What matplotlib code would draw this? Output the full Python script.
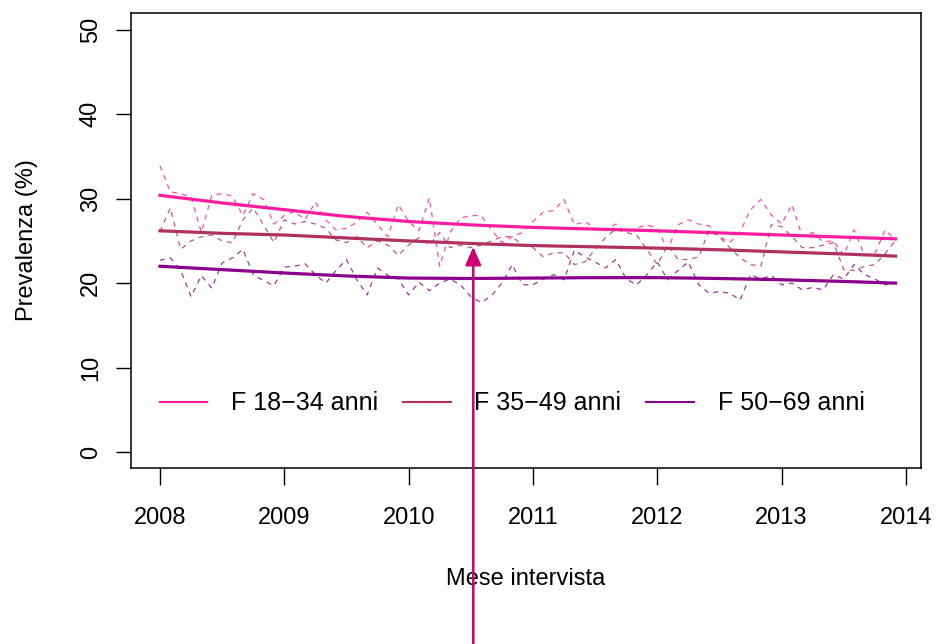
import numpy as np
import matplotlib.pyplot as plt

plt.rcParams['font.family'] = ['Liberation Sans', 'DejaVu Sans']

################################################################################
# monthly prevalence (Jan 2008 - Dec 2013)

months = 2008 + np.arange(72) / 12.

f_18_34 = [33.9, 30.8, 30.6, 30.2, 26.0, 30.4, 30.6, 30.3, 28.0, 30.6, 29.9, 27.0,
           28.0, 28.5, 27.5, 29.6, 27.5, 26.3, 26.5, 27.2, 28.4, 26.9, 25.5, 29.3,
           27.3, 26.2, 30.1, 22.0, 26.0, 27.7, 28.0, 28.0, 26.3, 24.8, 25.5, 26.0,
           27.3, 28.4, 28.6, 29.9, 26.9, 27.3, 26.5, 26.2, 27.0, 26.1, 26.5, 26.9,
           26.5, 24.0, 26.9, 27.5, 27.0, 26.8, 25.5, 24.8, 26.1, 28.7, 29.9, 28.1,
           27.0, 29.3, 25.5, 26.0, 24.9, 25.0, 23.3, 26.3, 23.3, 23.5, 26.3, 25.1]

f_35_49 = [26.1, 28.9, 24.0, 25.0, 25.5, 25.7, 25.0, 24.8, 27.5, 28.9, 26.9, 24.8,
           27.5, 27.0, 27.3, 27.0, 26.5, 25.1, 24.8, 25.5, 24.2, 25.0, 24.5, 23.3,
           24.5, 25.4, 24.5, 26.0, 24.2, 24.5, 24.2, 24.5, 25.0, 25.5, 25.5, 24.5,
           24.2, 23.1, 23.6, 23.6, 22.2, 22.5, 24.0, 25.4, 26.4, 26.0, 25.7, 24.0,
           22.2, 24.5, 22.8, 22.8, 23.1, 26.3, 25.5, 24.2, 23.0, 22.2, 22.0, 26.9,
           26.7, 25.5, 24.2, 24.2, 24.5, 24.8, 21.6, 21.5, 22.0, 22.2, 23.5, 25.1]

f_50_69 = [22.7, 23.0, 21.5, 18.4, 20.9, 19.4, 22.4, 23.0, 24.0, 21.0, 20.3, 19.7,
           21.9, 22.0, 22.3, 21.0, 20.0, 21.5, 22.8, 20.4, 18.6, 21.8, 20.9, 20.5,
           18.6, 20.1, 19.1, 20.0, 20.5, 19.8, 18.4, 17.7, 18.5, 20.0, 22.2, 19.8,
           19.8, 20.5, 21.0, 20.4, 23.9, 23.1, 22.5, 21.8, 22.8, 20.5, 19.8, 21.0,
           22.5, 20.4, 21.5, 22.5, 19.8, 18.8, 19.0, 18.8, 18.0, 21.0, 20.5, 20.9,
           19.8, 20.0, 19.2, 19.5, 19.2, 21.0, 20.5, 22.2, 21.0, 20.5, 19.8, 20.0]

# smoothed trends, read every half year
trend_x = [2008.0, 2008.5, 2009.0, 2009.5, 2010.0, 2010.5, 2011.0,
           2011.5, 2012.0, 2012.5, 2013.0, 2013.5, 2013.917]
trend_18_34 = [30.4, 29.5, 28.7, 27.9, 27.3, 26.9, 26.6, 26.4, 26.2, 25.95, 25.7, 25.45, 25.25]
trend_35_49 = [26.2, 25.9, 25.7, 25.35, 25.0, 24.7, 24.45, 24.3, 24.15, 23.95, 23.7, 23.45, 23.2]
trend_50_69 = [22.0, 21.6, 21.2, 20.85, 20.6, 20.55, 20.6, 20.65, 20.65, 20.55, 20.4, 20.2, 20.0]

labels = ['F 18\u221234 anni', 'F 35\u221249 anni', 'F 50\u221269 anni']
colors = ['#FF1C9E', '#B03060', '#8B008B']

arrow_x = 2010.52
arrow_y = 24.3

################################################################################

fig = plt.figure(figsize=(9.37, 6.44), dpi=100)
ax = fig.add_axes([131 / 937, 1 - 468 / 644, 790 / 937, 455 / 644])

for raw, trend, col, lab in zip([f_18_34, f_35_49, f_50_69],
                                [trend_18_34, trend_35_49, trend_50_69],
                                colors, labels):
    ax.plot(months, raw, color=col, lw=0.9, ls=(0, (4, 4)), alpha=0.8)
    ax.plot(trend_x, trend, color=col, lw=2.3, label=lab)

ax.set_xlim(2007.767, 2014.121)
ax.set_ylim(-1.9, 52.0)
ax.set_xticks(range(2008, 2015))
ax.set_yticks(range(0, 51, 10))
ax.tick_params(axis='x', length=12, width=1, labelsize=17, pad=16)
ax.tick_params(axis='y', length=11, width=1, labelsize=17, pad=10, labelrotation=90)
for lbl in ax.get_yticklabels():
    lbl.set_verticalalignment('center')
for sp in ax.spines.values():
    sp.set_linewidth(1.1)

ax.set_xlabel('Mese intervista', fontsize=17, labelpad=28)
ax.set_ylabel('Prevalenza (%)', fontsize=17, labelpad=30)

leg = ax.legend(loc='upper left', bbox_to_anchor=(0.008, 0.218), ncol=3, frameon=False,
                fontsize=18, handlelength=1.9, handletextpad=0.95, columnspacing=1.0,
                borderaxespad=0.5)
for ln in leg.get_lines():
    ln.set_linewidth(1.5)

ax.annotate('', xy=(arrow_x, arrow_y), xytext=(arrow_x, 0),
            xycoords='data', textcoords=('data', 'figure fraction'),
            annotation_clip=False,
            arrowprops=dict(arrowstyle='-|>,head_length=0.55,head_width=0.24',
                            mutation_scale=20, color='#CC0070', lw=1.8,
                            shrinkA=0, shrinkB=0))

fig.savefig('out.png', dpi=100)
